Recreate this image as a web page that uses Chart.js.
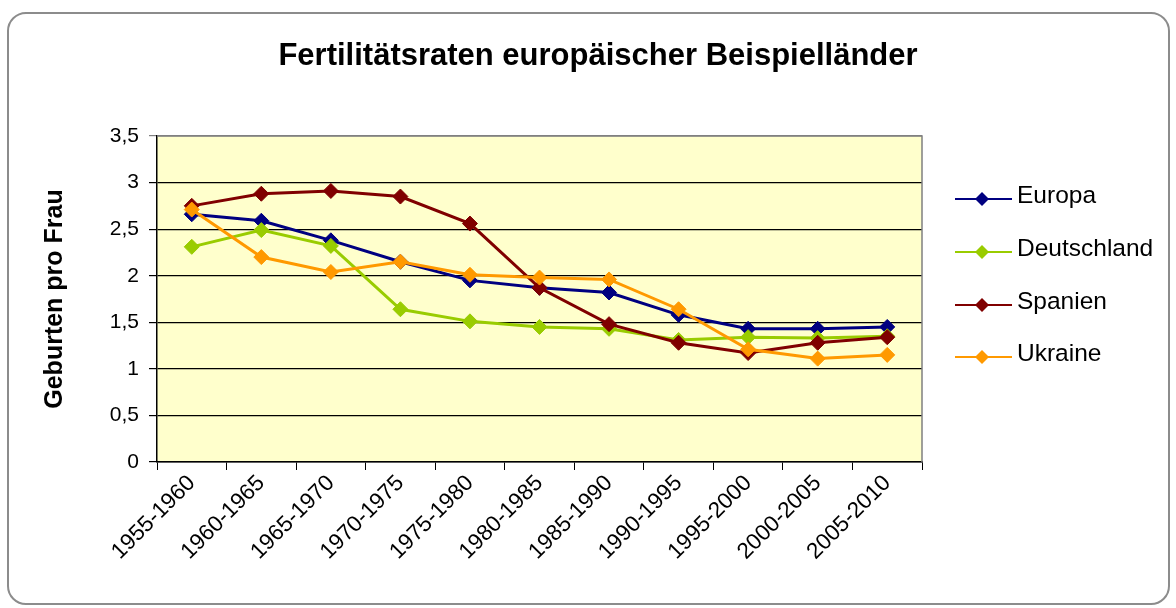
<!DOCTYPE html>
<html>
<head>
<meta charset="utf-8">
<script src="https://cdn.jsdelivr.net/npm/chart.js@4.4.1/dist/chart.umd.min.js"></script>
<style>
	html, body { margin: 0; padding: 0; background: #fff; }
	#wrap { width: 1176px; height: 608px; }
</style>
</head>
<body>
<div id="wrap"><canvas id="fertility-chart"></canvas></div>
<script>
const periods = ['1955-1960', '1960-1965', '1965-1970', '1970-1975', '1975-1980', '1980-1985',
	'1985-1990', '1990-1995', '1995-2000', '2000-2005', '2005-2010']
const europa = [2.66, 2.59, 2.38, 2.15, 1.95, 1.87, 1.82, 1.58, 1.43, 1.43, 1.45]
const deutschland = [2.31, 2.49, 2.32, 1.64, 1.51, 1.45, 1.43, 1.31, 1.34, 1.33, 1.35]
const spanien = [2.75, 2.88, 2.91, 2.85, 2.56, 1.87, 1.48, 1.28, 1.17, 1.28, 1.34]
const ukraine = [2.71, 2.20, 2.04, 2.15, 2.01, 1.98, 1.96, 1.64, 1.21, 1.11, 1.15]
const yTicks = [0, 0.5, 1, 1.5, 2, 2.5, 3, 3.5]
const yLabels = ['0', '0,5', '1', '1,5', '2', '2,5', '3', '3,5']

const titleText = 'Fertilitätsraten europäischer Beispielländer'
const fontFamily = '"Liberation Sans", Arial, sans-serif'

Chart.defaults.font.family = fontFamily
Chart.defaults.color = '#000'

const makeSeries = (label, data, color, order) => ({
	label: label,
	data: data,
	borderColor: color,
	backgroundColor: color,
	borderWidth: 3,
	pointStyle: 'rectRot',
	pointRadius: 7.5,
	pointHoverRadius: 7.5,
	pointBorderWidth: 1,
	tension: 0,
	order: order
})

// frame, plot background, title and legend like the Excel original
const excelLook = {
	id: 'excelLook',
	beforeDraw: (chart) => {
		const ctx = chart.ctx
		const a = chart.chartArea
		ctx.save()
		ctx.fillStyle = '#fff'
		ctx.fillRect(0, 0, chart.width, chart.height)
		ctx.strokeStyle = '#8c8c8c'
		ctx.lineWidth = 2
		ctx.beginPath()
		ctx.roundRect(8, 13, 1161, 591, 18)
		ctx.stroke()
		ctx.fillStyle = '#ffffcc'
		ctx.fillRect(a.left, a.top, a.right - a.left, a.bottom - a.top)
		ctx.restore()
	},
	afterDatasetsDraw: (chart) => {
		const ctx = chart.ctx
		const a = chart.chartArea
		ctx.save()
		ctx.strokeStyle = '#808080'
		ctx.lineWidth = 1.5
		ctx.beginPath()
		ctx.moveTo(a.left, a.top)
		ctx.lineTo(a.right, a.top)
		ctx.lineTo(a.right, a.bottom)
		ctx.stroke()
		ctx.restore()
	},
	afterDraw: (chart) => {
		const ctx = chart.ctx
		ctx.save()
		ctx.fillStyle = '#000'
		ctx.font = 'bold 31px ' + fontFamily
		ctx.textAlign = 'center'
		ctx.textBaseline = 'middle'
		ctx.fillText(titleText, 598, 56)

		const rowY = [199, 252, 305, 357]
		chart.data.datasets.forEach((ds, i) => {
			const y = rowY[i]
			ctx.strokeStyle = ds.borderColor
			ctx.lineWidth = 2
			ctx.beginPath()
			ctx.moveTo(955, y)
			ctx.lineTo(1012, y)
			ctx.stroke()
			ctx.fillStyle = ds.borderColor
			ctx.beginPath()
			ctx.moveTo(982, y - 7)
			ctx.lineTo(989, y)
			ctx.lineTo(982, y + 7)
			ctx.lineTo(975, y)
			ctx.closePath()
			ctx.fill()
			ctx.fillStyle = '#000'
			ctx.font = '24.5px ' + fontFamily
			ctx.textAlign = 'left'
			ctx.fillText(ds.label, 1017, y - 3)
		})
		ctx.restore()
	}
}

const config = {
	type: 'line',
	data: {
		labels: periods,
		datasets: [
			makeSeries('Europa', europa, '#000080', 4),
			makeSeries('Deutschland', deutschland, '#99cc00', 3),
			makeSeries('Spanien', spanien, '#800000', 2),
			makeSeries('Ukraine', ukraine, '#ff9900', 1)
		]
	},
	options: {
		responsive: true,
		maintainAspectRatio: false,
		animation: false,
		layout: {
			padding: { top: 136, right: 254, bottom: 0, left: 0 }
		},
		plugins: {
			legend: { display: false },
			title: { display: false },
			tooltip: { enabled: false }
		},
		scales: {
			x: {
				offset: true,
				grid: {
					offset: true,
					drawOnChartArea: false,
					drawTicks: true,
					tickLength: 8,
					color: '#000'
				},
				border: { display: true, color: '#000', width: 1.5 },
				ticks: {
					autoSkip: false,
					minRotation: 45,
					maxRotation: 45,
					padding: 0,
					font: { size: 22.5 },
					color: '#000'
				},
				afterFit: (scale) => { scale.height = 146 }
			},
			y: {
				min: 0,
				max: 3.5,
				afterBuildTicks: (scale) => {
					scale.ticks = yTicks.map((v) => ({ value: v }))
				},
				grid: {
					color: (c) => (c.index === yTicks.length - 1 ? '#808080' : '#000'),
					lineWidth: 1.2,
					tickLength: 8
				},
				border: { display: true, color: '#000', width: 1.5 },
				ticks: {
					padding: 10,
					font: { size: 21 },
					color: '#000',
					callback: (value, index) => yLabels[index]
				},
				title: {
					display: true,
					text: 'Geburten pro Frau',
					font: { size: 25, weight: 'bold' },
					color: '#000',
					padding: { top: 40, bottom: 0 }
				},
				afterFit: (scale) => { scale.width = 157 }
			}
		}
	},
	plugins: [excelLook]
}

const ctx = document.querySelector('#fertility-chart').getContext('2d')
const fertilityChart = new Chart(ctx, config)
</script>
</body>
</html>
